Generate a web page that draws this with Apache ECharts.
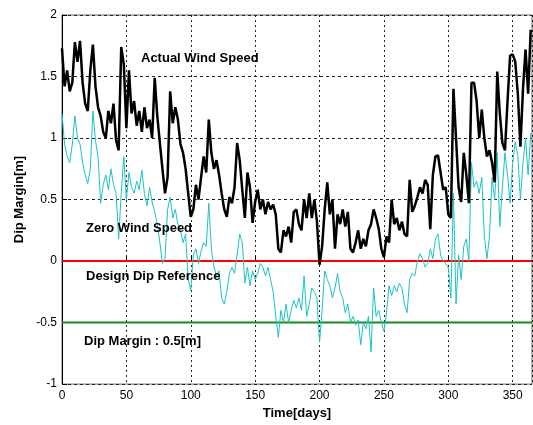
<!DOCTYPE html>
<html>
<head>
<meta charset="utf-8">
<script src="https://cdn.jsdelivr.net/npm/echarts@6/dist/echarts.min.js"></script>
<style>
html, body { margin: 0; padding: 0; background: #fff; }
#dip-margin-chart { width: 533px; height: 425px; }
</style>
</head>
<body>
<div id="dip-margin-chart"></div>
<script>
// sample days (every 2 days)
const days = [
  0, 2, 4, 6, 8, 10, 12, 14, 16, 18, 20, 22, 24, 26, 28, 30, 32, 34, 36, 38,
  40, 42, 44, 46, 48, 50, 52, 54, 56, 58, 60, 62, 64, 66, 68, 70, 72, 74, 76, 78,
  80, 82, 84, 86, 88, 90, 92, 94, 96, 98, 100, 102, 104, 106, 108, 110, 112, 114, 116, 118,
  120, 122, 124, 126, 128, 130, 132, 134, 136, 138, 140, 142, 144, 146, 148, 150, 152, 154, 156, 158,
  160, 162, 164, 166, 168, 170, 172, 174, 176, 178, 180, 182, 184, 186, 188, 190, 192, 194, 196, 198,
  200, 202, 204, 206, 208, 210, 212, 214, 216, 218, 220, 222, 224, 226, 228, 230, 232, 234, 236, 238,
  240, 242, 244, 246, 248, 250, 252, 254, 256, 258, 260, 262, 264, 266, 268, 270, 272, 274, 276, 278,
  280, 282, 284, 286, 288, 290, 292, 294, 296, 298, 300, 302, 304, 306, 308, 310, 312, 314, 316, 318,
  320, 322, 324, 326, 328, 330, 332, 334, 336, 338, 340, 342, 344, 346, 348, 350, 352, 354, 356, 358,
  360, 362, 364
];

// Actual Wind Speed (black)
const actualWind = [
  1.73, 1.42, 1.55, 1.38, 1.45, 1.78, 1.62, 1.79, 1.45, 1.28, 1.22, 1.55, 1.76, 1.42, 1.25, 1.18, 1.05, 1.00, 1.22, 1.12,
  1.28, 0.98, 0.90, 1.74, 1.60, 1.08, 1.55, 1.20, 1.30, 1.10, 1.22, 1.05, 1.25, 1.08, 1.15, 1.00, 1.49, 1.18, 0.96, 0.75,
  0.55, 0.68, 1.38, 1.12, 1.25, 1.15, 0.95, 0.88, 0.75, 0.55, 0.36, 0.42, 0.62, 0.50, 0.68, 0.85, 0.72, 1.15, 0.88, 0.75,
  0.82, 0.70, 0.55, 0.42, 0.36, 0.52, 0.47, 0.60, 0.96, 0.82, 0.58, 0.35, 0.72, 0.60, 0.31, 0.48, 0.58, 0.42, 0.50, 0.38,
  0.48, 0.42, 0.46, 0.38, 0.10, 0.07, 0.25, 0.20, 0.28, 0.15, 0.40, 0.42, 0.30, 0.25, 0.50, 0.35, 0.55, 0.35, 0.50, 0.32,
  -0.03, 0.12, 0.42, 0.64, 0.38, 0.50, 0.10, 0.38, 0.30, 0.42, 0.28, 0.40, 0.10, 0.07, 0.15, 0.25, 0.10, 0.18, 0.12, 0.25,
  0.30, 0.42, 0.35, 0.26, 0.10, 0.03, 0.20, 0.15, 0.50, 0.30, 0.35, 0.25, 0.32, 0.22, 0.20, 0.66, 0.40, 0.45, 0.52, 0.60,
  0.55, 0.66, 0.62, 0.26, 0.70, 0.85, 0.86, 0.72, 0.58, 0.60, 0.38, 0.35, 1.40, 1.00, 0.60, 0.48, 0.88, 0.70, 0.47, 1.45,
  1.45, 1.30, 1.00, 1.23, 1.00, 0.85, 0.90, 0.80, 0.64, 1.54, 1.20, 0.96, 0.90, 1.30, 1.67, 1.68, 1.62, 1.36, 0.93, 1.40,
  1.72, 1.36, 1.88
];

// Zero Wind Speed (cyan)
const zeroWind = [
  1.20, 0.95, 0.85, 0.80, 0.95, 1.18, 1.00, 0.95, 0.80, 0.70, 0.63, 0.75, 1.22, 0.98, 0.85, 0.47, 0.62, 0.70, 0.58, 0.75,
  0.62, 0.55, 0.18, 0.55, 0.85, 0.50, 0.72, 0.60, 0.55, 0.65, 0.58, 0.74, 0.55, 0.45, 0.60, 0.48, 0.40, 0.30, 0.15, -0.02,
  0.02, 0.42, 0.52, 0.35, 0.42, 0.30, 0.25, 0.15, 0.22, -0.15, -0.24, 0.05, 0.10, -0.02, 0.08, 0.15, 0.12, 0.47, 0.10, -0.05,
  -0.12, -0.08, -0.30, -0.35, -0.25, -0.10, -0.05, -0.10, 0.05, 0.22, 0.15, -0.18, -0.05, -0.20, -0.08, -0.15, -0.10, -0.02, -0.05, -0.12,
  -0.05, -0.15, -0.25, -0.45, -0.62, -0.40, -0.50, -0.35, -0.50, -0.40, -0.32, -0.38, -0.30, -0.40, -0.12, -0.45, -0.35, -0.22, -0.25, -0.30,
  -0.66, -0.40, -0.08, -0.15, -0.20, -0.30, -0.22, -0.10, -0.25, -0.30, -0.42, -0.35, -0.50, -0.45, -0.52, -0.48, -0.68, -0.50, -0.55, -0.45,
  -0.74, -0.22, -0.45, -0.40, -0.50, -0.57, -0.42, -0.20, -0.28, -0.20, -0.25, -0.18, -0.22, -0.35, -0.42, -0.15, -0.10, -0.12, 0.00, 0.06,
  0.02, -0.05, -0.02, 0.10, 0.02, 0.18, 0.22, 0.05, 0.00, -0.02, -0.05, -0.30, 0.55, -0.35, 0.05, -0.15, 0.12, 0.18, 0.00, 0.80,
  0.60, 0.65, 0.55, 0.68, 0.20, 0.02, 0.20, 0.68, 0.50, 0.88, 0.28, 0.60, 0.88, 0.70, 0.47, 0.80, 0.97, 0.85, 0.50, 0.80,
  1.00, 0.70, 1.04
];

const designDipRef = 0;     // red reference line
const dipMarginLevel = -0.5; // green margin line
const xMin = 0, xMax = 365, xStep = 50;
const yMin = -1, yMax = 2, yStep = 0.5;

const fontFamily = '"Liberation Sans", Arial, sans-serif';

let chart = echarts.init(document.getElementById('dip-margin-chart'));
let option = {
  animation: false,
  backgroundColor: '#fff',
  grid: {
    left: 62,
    right: 1,
    top: 15,
    bottom: 40,
    show: true,
    borderColor: '#666',
    borderWidth: 1
  },
  xAxis: {
    type: 'value',
    min: xMin,
    max: xMax,
    interval: xStep,
    name: 'Time[days]',
    nameLocation: 'middle',
    nameGap: 21,
    nameTextStyle: { color: '#000', fontWeight: 'bold', fontSize: 13, fontFamily: fontFamily },
    axisLine: { lineStyle: { color: '#000', width: 1 } },
    axisTick: { inside: true, length: 5, lineStyle: { color: '#000' } },
    axisLabel: { color: '#000', fontSize: 12, margin: 6, fontFamily: fontFamily, showMaxLabel: false },
    splitLine: { show: true, lineStyle: { color: '#222', type: [2, 3], width: 1 } }
  },
  yAxis: {
    type: 'value',
    min: yMin,
    max: yMax,
    interval: yStep,
    name: 'Dip Margin[m]',
    nameLocation: 'middle',
    nameGap: 35,
    nameRotate: 90,
    nameTextStyle: { color: '#000', fontWeight: 'bold', fontSize: 13, fontFamily: fontFamily },
    axisLine: { show: true, lineStyle: { color: '#000', width: 1 } },
    axisTick: { show: true, inside: true, length: 5, lineStyle: { color: '#000' } },
    axisLabel: { color: '#000', fontSize: 12, margin: 5, fontFamily: fontFamily },
    splitLine: { show: true, lineStyle: { color: '#222', type: [3, 3], width: 1 } }
  },
  series: [
    {
      name: 'Design Dip Reference',
      type: 'line',
      symbol: 'none',
      silent: true,
      data: [[xMin, designDipRef], [xMax, designDipRef]],
      lineStyle: { color: '#ff0000', width: 2 }
    },
    {
      name: 'Dip Margin',
      type: 'line',
      symbol: 'none',
      silent: true,
      data: [[xMin, dipMarginLevel], [xMax, dipMarginLevel]],
      lineStyle: { color: '#1a8a1a', width: 2 }
    },
    {
      name: 'Zero Wind Speed',
      type: 'line',
      symbol: 'none',
      data: days.map((d, i) => [d, zeroWind[i]]),
      lineStyle: { color: '#1ec3c3', width: 1 }
    },
    {
      name: 'Actual Wind Speed',
      type: 'line',
      symbol: 'none',
      data: days.map((d, i) => [d, actualWind[i]]),
      lineStyle: { color: '#000', width: 2.5 }
    }
  ],
  graphic: [
    { type: 'text', x: 141, y: 58, z: 100, style: { text: 'Actual Wind Speed', fill: '#000', font: 'bold 13px ' + fontFamily, verticalAlign: 'middle' } },
    { type: 'text', x: 86, y: 228, z: 100, style: { text: 'Zero Wind Speed', fill: '#000', font: 'bold 13px ' + fontFamily, verticalAlign: 'middle' } },
    { type: 'text', x: 86, y: 276, z: 100, style: { text: 'Design Dip Reference', fill: '#000', font: 'bold 13px ' + fontFamily, verticalAlign: 'middle' } },
    { type: 'text', x: 84, y: 341, z: 100, style: { text: 'Dip Margin : 0.5[m]', fill: '#000', font: 'bold 13px ' + fontFamily, verticalAlign: 'middle' } }
  ]
};
chart.setOption(option);
</script>
</body>
</html>
